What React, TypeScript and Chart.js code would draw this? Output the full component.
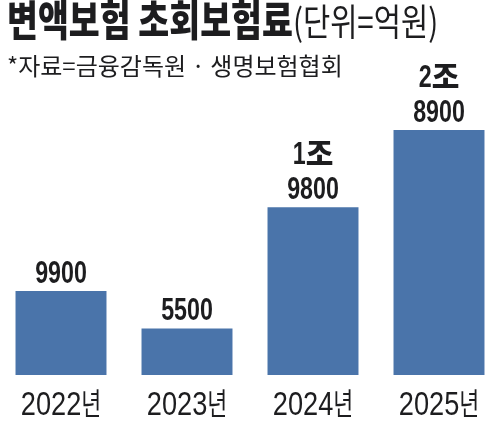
import { useEffect, useRef } from "react";
import { Chart, registerables } from "chart.js";

Chart.register(...registerables);

const categories = ["2022년", "2023년", "2024년", "2025년"];
const values = [9900, 5500, 19800, 28900];
const titleMain = "변액보험 초회보험료";
const titleUnit = "(단위=억원)";
const sourceText = "*자료=금융감독원 · 생명보험협회";

const BAR_COLOR = "#4a74aa";
const TEXT_COLOR = "#1d1d1f";
const OFFSET = 2; // canvas is shifted 2px left of the page
const KR = "'Noto Sans CJK KR', 'Noto Sans', sans-serif";
const LATIN = "'Liberation Sans', Arial, sans-serif";

type RunStyle = { font: string; scaleX: number };
type Run = { text: string; style: RunStyle };

function splitRuns(text: string, latin: RunStyle, hangul: RunStyle): Run[] {
  const runs: Run[] = [];
  for (const ch of text) {
    const isH = /[\uAC00-\uD7A3\u3131-\u318E]/.test(ch);
    const style = isH ? hangul : latin;
    const last = runs[runs.length - 1];
    if (last && last.style === style) last.text += ch;
    else runs.push({ text: ch, style });
  }
  return runs;
}

function drawRuns(
  ctx: CanvasRenderingContext2D,
  runs: Run[],
  x: number,
  y: number,
  align: "left" | "center"
) {
  const widths = runs.map((r) => {
    ctx.font = r.style.font;
    return ctx.measureText(r.text).width * r.style.scaleX;
  });
  const total = widths.reduce((a, b) => a + b, 0);
  let cx = align === "center" ? x - total / 2 : x;
  runs.forEach((r, i) => {
    ctx.save();
    ctx.font = r.style.font;
    ctx.textAlign = "left";
    ctx.textBaseline = "alphabetic";
    ctx.fillStyle = TEXT_COLOR;
    ctx.translate(cx, y);
    ctx.scale(r.style.scaleX, 1);
    ctx.fillText(r.text, 0, 0);
    ctx.restore();
    cx += widths[i];
  });
  return total;
}

function valueLines(v: number): string[] {
  const jo = Math.floor(v / 10000);
  const rest = v % 10000;
  return jo > 0 ? [`${jo}조`, String(rest)] : [String(rest)];
}

const textPlugin = {
  id: "textPlugin",
  afterDraw(chart: any) {
    const ctx: CanvasRenderingContext2D = chart.ctx;
    // Title
    const w = drawRuns(
      ctx,
      [{ text: titleMain, style: { font: `900 42px ${KR}`, scaleX: 0.8 } }],
      7 + OFFSET,
      36,
      "left"
    );
    drawRuns(
      ctx,
      [{ text: titleUnit, style: { font: `400 37px ${KR}`, scaleX: 0.8 } }],
      7 + OFFSET + w,
      36,
      "left"
    );
    // Source
    drawRuns(
      ctx,
      [{ text: sourceText, style: { font: `400 24px ${KR}`, scaleX: 1 } }],
      7 + OFFSET,
      75,
      "left"
    );

    const meta = chart.getDatasetMeta(0);
    const xScale = chart.scales.x;
    const valLatin: RunStyle = { font: `700 31px ${LATIN}`, scaleX: 0.75 };
    const valHangul: RunStyle = { font: `900 30px ${KR}`, scaleX: 1 };
    const labLatin: RunStyle = { font: `400 34px ${LATIN}`, scaleX: 0.8 };
    const labHangul: RunStyle = { font: `400 31px ${KR}`, scaleX: 0.7 };

    meta.data.forEach((el: any, i: number) => {
      const lines = valueLines(values[i]);
      let base = el.y - 8;
      for (let k = lines.length - 1; k >= 0; k--) {
        drawRuns(ctx, splitRuns(lines[k], valLatin, valHangul), el.x, base, "center");
        base -= 35;
      }
      const cx = xScale.getPixelForValue(i);
      drawRuns(ctx, splitRuns(categories[i], labLatin, labHangul), cx, 415, "center");
    });
  },
};

export default function App() {
  const ref = useRef<HTMLCanvasElement>(null);
  useEffect(() => {
    if (!ref.current) return;
    const chart = new Chart(ref.current, {
      type: "bar",
      data: {
        labels: categories,
        datasets: [
          {
            data: values,
            backgroundColor: BAR_COLOR,
            borderWidth: 0,
            barPercentage: 0.722,
            categoryPercentage: 1,
          },
        ],
      },
      options: {
        responsive: false,
        animation: false,
        layout: { padding: { top: 36, bottom: 46, left: 0, right: 0 } },
        scales: {
          x: { display: false },
          y: { display: false, min: 0, max: 40000 },
        },
        plugins: {
          legend: { display: false },
          tooltip: { enabled: false },
          title: { display: false },
        },
      },
      plugins: [textPlugin],
    });
    return () => chart.destroy();
  }, []);
  return (
    <div
      style={{
        position: "absolute",
        left: 0,
        top: 0,
        width: 500,
        height: 421,
        overflow: "hidden",
        background: "#fff",
      }}
    >
      <canvas
        ref={ref}
        width={504}
        height={421}
        style={{ position: "absolute", left: -2, top: 0 }}
      />
    </div>
  );
}
